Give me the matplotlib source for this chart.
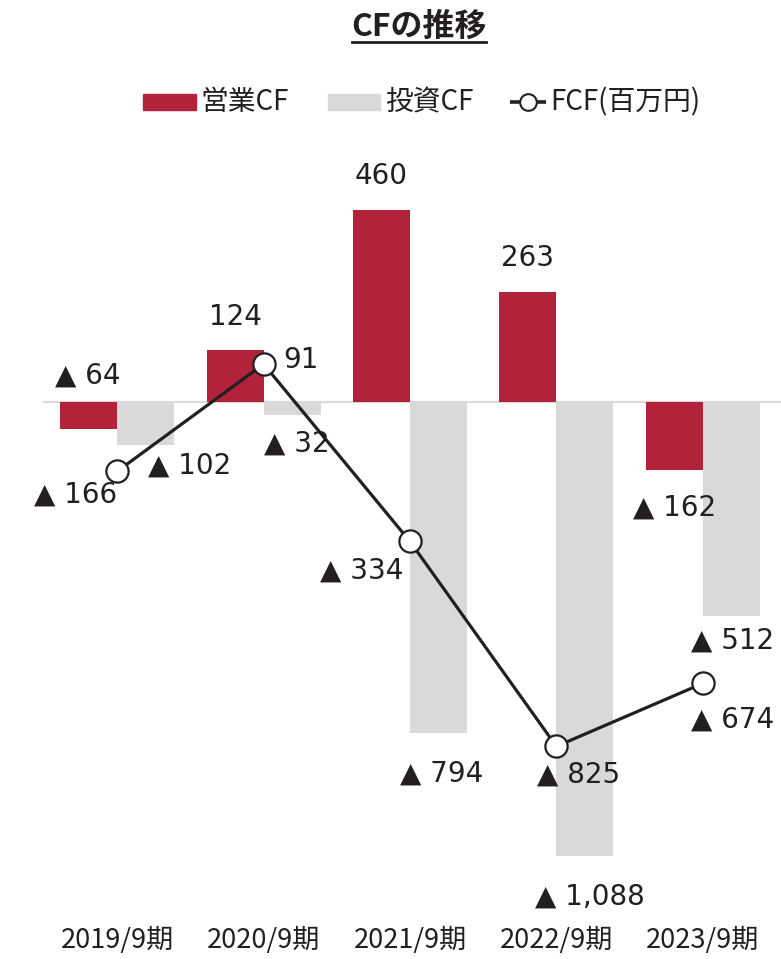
import numpy as np
import matplotlib.pyplot as plt
from matplotlib.patches import Rectangle
from matplotlib.lines import Line2D

years = ['2019/9期', '2020/9期', '2021/9期', '2022/9期', '2023/9期']
op_cf = [-64, 124, 460, 263, -162]
inv_cf = [-102, -32, -794, -1088, -512]
fcf = [-166, 91, -334, -825, -674]

# label offsets in pixels from the end of each bar / each point
op_off = [(-1, 53), (0, 33), (0, 34), (0, 34), (0, -38)]
inv_off = [(44, -21), (5, -28), (3, -40), (5, -40), (1, -25)]
fcf_off = [(-42, -23), (37, 4), (-48, -29), (22, -28), (30, -36)]

RED = '#b2223b'
GRAY = '#d9d9d9'
INK = '#231f20'
JP = ['Noto Sans CJK JP', 'DejaVu Sans']
W, H = 781, 959


def fmt(v):
    return f'▲ {abs(v):,}' if v < 0 else f'{v:,}'


def fx(px):
    return px / W


def fy(py):
    return 1 - py / H


fig = plt.figure(figsize=(W / 100, H / 100), dpi=100)
ax = fig.add_axes([fx(44), fy(925), 732 / W, 775 / H])

x = np.arange(len(years))
w = 0.39
ax.bar(x - w / 2, op_cf, w, color=RED, zorder=2)
ax.bar(x + w / 2, inv_cf, w, color=GRAY, zorder=2)
ax.plot(x, fcf, color=INK, lw=2.3, marker='o', ms=16, mfc='white',
        mec=INK, mew=1.6, zorder=4)
ax.axhline(0, color=GRAY, lw=1.5, zorder=1, clip_on=False, xmax=1.01)

ax.set_xlim(-0.5, 4.5)
ax.set_ylim(-1253, 604)

for xs, vals, offs in [(x - w / 2, op_cf, op_off),
                       (x + w / 2, inv_cf, inv_off),
                       (x, fcf, fcf_off)]:
    for xi, v, (dx, dy) in zip(xs, vals, offs):
        ax.annotate(fmt(v), (xi, v), xytext=(dx, dy), textcoords='offset pixels',
                    ha='center', va='center', fontsize=20, color=INK,
                    family='DejaVu Sans', zorder=5)

ax.set_xticks(x)
ax.set_xticklabels(years, family=JP, fontsize=19.5, color=INK)
ax.tick_params(axis='x', length=0, pad=1)
ax.set_yticks([])
for s in ax.spines.values():
    s.set_visible(False)

# title with underline
fig.text(fx(419), fy(27), 'CFの推移', ha='center', va='center',
         fontsize=23, fontweight='bold', family=JP, color=INK)
fig.add_artist(Line2D([fx(352), fx(486)], [fy(42)] * 2, color=INK, lw=2))

# legend row
ly = 102
fig.add_artist(Rectangle((fx(143), fy(ly + 8)), 53 / W, 16 / H, color=RED))
fig.text(fx(200), fy(ly), '営業CF', ha='left', va='center',
         fontsize=20, family=JP, color=INK)
fig.add_artist(Rectangle((fx(328), fy(ly + 8)), 52 / W, 16 / H, color=GRAY))
fig.text(fx(385), fy(ly), '投資CF', ha='left', va='center',
         fontsize=20, family=JP, color=INK)
fig.add_artist(Line2D([fx(510), fx(546)], [fy(ly)] * 2, color=INK, lw=2.6,
                      solid_capstyle='butt'))
fig.add_artist(Line2D([fx(528)], [fy(ly)], color=INK, marker='o', ms=12,
                      mfc='white', mec=INK, mew=1.5, lw=0))
fig.text(fx(550), fy(ly), 'FCF(百万円)', ha='left', va='center',
         fontsize=20, family=JP, color=INK)

fig.savefig('out.png', dpi=100)
